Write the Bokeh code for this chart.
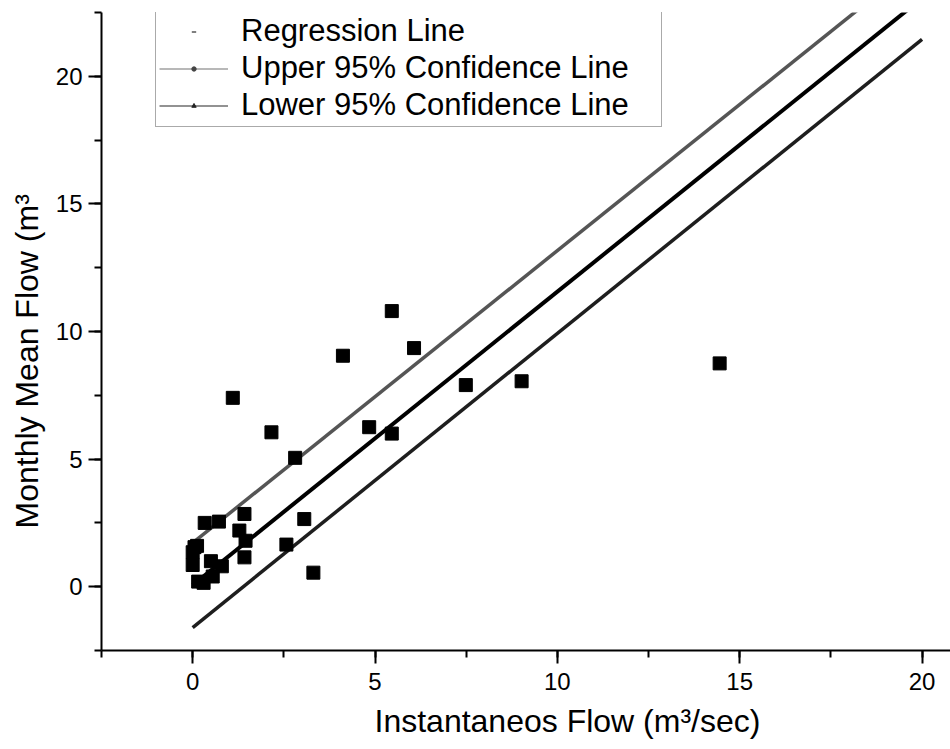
from bokeh.plotting import figure
from bokeh.models import Range1d, SingleIntervalTicker, Legend, LegendItem, Title
from bokeh.embed import file_html
from bokeh.resources import INLINE

# Observed data (Instantaneous flow vs monthly mean flow)
flow_x = [0.0, 0.0, 0.05, 0.12, 0.15, 0.3, 0.5, 0.55, 0.8, 0.33, 0.72, 1.42, 1.28,
          1.42, 1.45, 1.1, 2.16, 2.81, 3.06, 2.57, 3.31, 4.12, 5.46, 6.07, 4.84,
          5.46, 7.49, 9.02, 14.45]
flow_y = [0.85, 1.35, 1.55, 1.6, 0.2, 0.15, 1.0, 0.4, 0.8, 2.5, 2.55, 2.85, 2.2,
          1.15, 1.8, 7.4, 6.05, 5.05, 2.65, 1.65, 0.55, 9.05, 10.8, 9.35, 6.25,
          6.0, 7.9, 8.05, 8.75]

# Fitted lines (end points at x = 0 and x = 20)
line_x = [0, 20]
regression_y = [0.06, 23.06]
upper_y = [1.72, 24.62]
lower_y = [-1.6, 21.45]

# Off-range points used only to give the legend glyphs something to draw
legend_x = [-100, -99]
legend_y = [-100, -99]

legend_labels = ["Regression Line", "Upper 95% Confidence Line",
                 "Lower 95% Confidence Line"]
x_label = "Instantaneos Flow (m³/sec)"
y_label = "Monthly Mean Flow (m³"

FONT = "Liberation Sans"

p = figure(width=950, height=749, output_backend="svg", toolbar_location=None,
           x_range=Range1d(-2.5, 20.78), y_range=Range1d(-2.5, 22.5),
           min_border_left=99, min_border_top=12, min_border_bottom=99,
           min_border_right=0)
p.outline_line_color = None
p.grid.visible = False
p.background_fill_color = "white"

p.xaxis.ticker = SingleIntervalTicker(interval=5, num_minor_ticks=2)
p.yaxis.ticker = SingleIntervalTicker(interval=5, num_minor_ticks=2)

for ax in (p.xaxis, p.yaxis):
    ax.axis_line_width = 2
    ax.axis_line_color = "black"
    ax.major_tick_line_width = 2
    ax.minor_tick_line_width = 2
    ax.major_tick_in = 0
    ax.major_tick_out = 13
    ax.minor_tick_in = 0
    ax.minor_tick_out = 7
    ax.major_label_text_font = FONT
    ax.major_label_text_font_size = "24px"
    ax.major_label_text_color = "black"

p.xaxis.major_label_standoff = 9
p.yaxis.major_label_standoff = 6

# Fitted lines
p.line(line_x, upper_y, line_color="#555555", line_width=3.5)
p.line(line_x, lower_y, line_color="#1e1e1e", line_width=3.5)
p.line(line_x, regression_y, line_color="black", line_width=4)

# Observations
p.scatter(flow_x, flow_y, marker="square", size=13, fill_color="black",
          line_color="black")

# Legend-only renderers (outside the visible ranges)
leg_reg = p.scatter(legend_x, legend_y, marker="dash", size=5, line_color="black",
                    line_width=1)
leg_up_line = p.line(legend_x, legend_y, line_color="#a0a0a0", line_width=1.3)
leg_up_mark = p.scatter(legend_x, legend_y, marker="circle", size=5,
                        fill_color="#444444", line_color="#444444")
leg_lo_line = p.line(legend_x, legend_y, line_color="#6e6e6e", line_width=1.3)
leg_lo_mark = p.scatter(legend_x, legend_y, marker="triangle", size=5,
                        fill_color="#222222", line_color="#222222")

legend = Legend(items=[
    LegendItem(label=legend_labels[0], renderers=[leg_reg]),
    LegendItem(label=legend_labels[1], renderers=[leg_up_line, leg_up_mark]),
    LegendItem(label=legend_labels[2], renderers=[leg_lo_line, leg_lo_mark]),
], location=(54, 523))
legend.label_text_font = FONT
legend.label_text_font_size = "31px"
legend.label_text_color = "black"
legend.glyph_width = 69
legend.glyph_height = 11
legend.label_width = 417
legend.label_standoff = 13
legend.spacing = 1
legend.padding = 3
legend.margin = 0
legend.border_line_color = "#555555"
legend.border_line_width = 1.5
legend.background_fill_color = "white"
legend.background_fill_alpha = 1
p.add_layout(legend)

# Axis titles as side-panel titles (allow exact placement along the axis)
p.add_layout(Title(text=y_label, align="left", offset=122, vertical_align="middle",
                   standoff=14, text_font=FONT, text_font_size="32px",
                   text_font_style="normal", text_color="black"), "left")
p.add_layout(Title(text=x_label, align="left", offset=273, vertical_align="bottom",
                   standoff=16, text_font=FONT, text_font_size="32px",
                   text_font_style="normal", text_color="black"), "below")

open("out.html", "w").write(file_html(p, INLINE))
